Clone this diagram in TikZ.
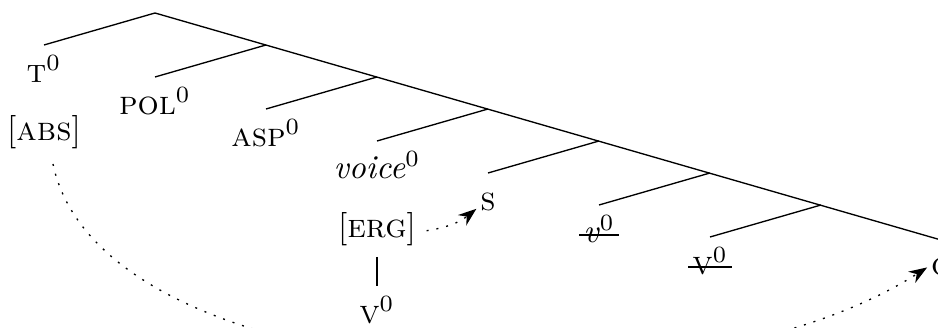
\documentclass[tikz,border=0pt]{standalone}
\usetikzlibrary{arrows.meta,positioning,calc}

\begin{document}
\begin{tikzpicture}[
  x=0.3pt,y=-0.3pt,
  leaf/.style={anchor=base,inner sep=1pt},
  feat/.style={anchor=base,inner sep=3pt},
  link/.style={dash pattern=on 0.6pt off 2.4pt,
               -{Stealth[length=5.5pt,width=4pt]}}
]
  \useasboundingbox (0,0) rectangle (938,328);
  \clip (0,0) rectangle (938,328);
  % spine of the tree
  \foreach \k in {0,...,6}{
    \coordinate (j\k) at ({155+111*\k},{13+32*\k});
    \coordinate (l\k) at ({44+111*\k},{45+32*\k});
  }
  \coordinate (r) at (941,240);
  \draw (l0) -- (j0) -- (r);
  \foreach \k in {1,...,6}
    \draw (l\k) -- (j\k);
  % heads
  \node[leaf] (t0) at ($(l0)+(0,38)$) {\textsc{t}$^0$};
  \node[leaf] (pol) at ($(l1)+(0,38)$) {\textsc{pol}$^0$};
  \node[leaf] (asp) at ($(l2)+(0,38)$) {\textsc{asp}$^0$};
  \node[leaf] (voice) at ($(l3)+(0,38)$) {\textit{voice}$^0$};
  \node[leaf] (s) at ($(l4)+(0,38)$) {\textsc{s}};
  \node[leaf] (vsmall) at ($(l5)+(0,38)$) {\textit{v}$^0$};
  \node[leaf] (vbig) at ($(l6)+(0,38)$) {\textsc{v}$^0$};
  \node[leaf] (c) at ($(r)+(0,36)$) {\textsc{c}};
  % copies that are struck out
  \foreach \n in {vsmall,vbig}
    \draw ($(\n.base west)+(0,-8)$) -- ($(\n.base east)+(0,-8)$);
  % features
  \node[feat] (abs) at ($(t0.base)+(0,58)$) {[\textsc{abs}]};
  \node[feat] (erg) at ($(voice.base)+(0,59)$) {[\textsc{erg}]};
  \node[feat] (v0) at ($(erg.base)+(0,86)$) {\textsc{v}$^0$};
  \draw (erg) -- (v0);
  % agreement
  \draw[link] (erg) to[bend right=15] (s);
  \draw[link] ($(abs.south)+(9,4)$) .. controls (100,390) and (680,425) .. (c.west);
\end{tikzpicture}
\end{document}
